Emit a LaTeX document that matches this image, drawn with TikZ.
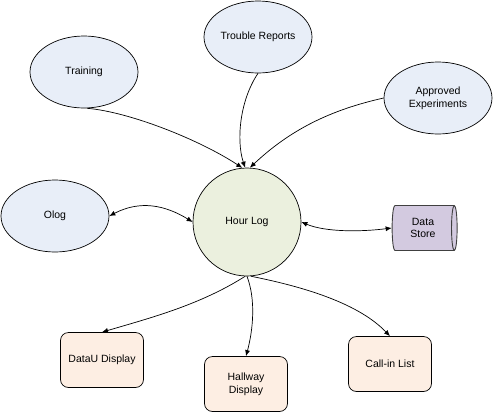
\documentclass[tikz,border=0pt]{standalone}
\usepackage{fontspec}
\setmainfont{Liberation Sans}
\usetikzlibrary{shapes.geometric,arrows.meta}
\definecolor{ellfill}{HTML}{E8EEF8}
\definecolor{hubfill}{HTML}{EBF0DE}
\definecolor{dsfill}{HTML}{D3CAE0}
\definecolor{boxfill}{HTML}{FDEEE3}
\tikzset{
  src/.style={ellipse,draw=black,line width=0.7pt,fill=ellfill,minimum width=108pt,minimum height=72pt,inner sep=0pt,align=center},
  hub/.style={circle,draw=black,line width=0.7pt,fill=hubfill,minimum size=108pt,inner sep=0pt},
  store/.style={cylinder,draw=black!75,line width=0.9pt,fill=dsfill,minimum width=45pt,minimum height=65pt,aspect=0.28,inner sep=0pt,align=center},
  outbox/.style={rectangle,rounded corners=8pt,draw=black,line width=0.7pt,fill=boxfill,minimum width=83pt,minimum height=55pt,inner sep=0pt,align=center},
  conn/.style={line width=0.7pt,-{Latex[length=6pt,width=5pt]}},
  biconn/.style={line width=0.7pt,{Latex[length=6pt,width=5pt]}-{Latex[length=6pt,width=5pt]}}
}
\begin{document}
\begin{tikzpicture}[x=1pt,y=-1pt,font=\fontsize{10.5}{12.7}\selectfont]
\useasboundingbox (0,0) rectangle (493,413);
\node[src] (training) at (84,72) {Training};
\node[src] (trouble) at (258,37) {Trouble Reports};
\node[src] (approved) at (438,98) {Approved\\Experiments};
\node[src] (olog) at (55,216) {Olog};
\node[hub] (hour) at (247,222) {Hour Log};
\node[store] (ds) at (423,228) {Data\\Store};
\node[outbox] (datau) at (102,360) {DataU Display};
\node[outbox] (hall) at (246,384) {Hallway\\Display};
\node[outbox] (call) at (390,364) {Call-in List};

\draw[conn] (training.-85) .. controls (130,112) and (200,140) .. (hour.95);
\draw[conn] (trouble.south) .. controls (240,100) and (236,140) .. (hour.92);
\draw[conn] (approved.west) .. controls (330,110) and (290,130) .. (hour.87);
\draw[biconn] (olog.east) .. controls (140,200) and (165,205) .. (hour.west);
\draw[biconn] (hour.east) .. controls (325,232) and (360,232) .. (ds.west);
\draw[conn] (hour.-92) .. controls (200,305) and (150,318) .. (datau.north);
\draw[conn] (hour.-90) .. controls (256,300) and (253,330) .. (hall.north);
\draw[conn] (hour.-86) .. controls (310,288) and (360,305) .. (call.north);
\end{tikzpicture}
\end{document}
